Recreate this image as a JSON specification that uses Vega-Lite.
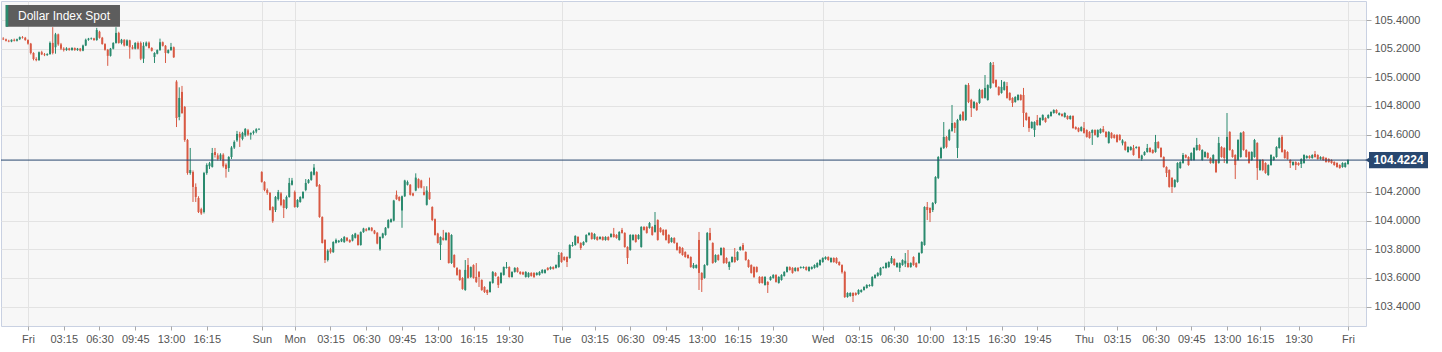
{
"$schema":"https://vega.github.io/schema/vega-lite/v6.json",
"width":1365,"height":325,
"padding":{"left":0,"top":1,"right":0,"bottom":0},
"background":"white",
"config":{"view":{"fill":"#f7f7f7","stroke":"#c9d1e2","strokeWidth":1},"font":"Liberation Sans","scale":{"continuousPadding":0}},
"data":{"values":[
{"t":-9,"o":105.270,"h":105.280,"l":105.260,"c":105.265},
{"t":-8,"o":105.265,"h":105.270,"l":105.250,"c":105.255},
{"t":-7,"o":105.255,"h":105.262,"l":105.245,"c":105.250},
{"t":-6,"o":105.250,"h":105.265,"l":105.245,"c":105.262},
{"t":-5,"o":105.262,"h":105.270,"l":105.250,"c":105.255},
{"t":-4,"o":105.255,"h":105.270,"l":105.250,"c":105.266},
{"t":-3,"o":105.266,"h":105.285,"l":105.260,"c":105.280},
{"t":-2,"o":105.280,"h":105.288,"l":105.270,"c":105.276},
{"t":-1,"o":105.276,"h":105.282,"l":105.255,"c":105.260},
{"t":0,"o":105.260,"h":105.265,"l":105.228,"c":105.235},
{"t":1,"o":105.235,"h":105.240,"l":105.160,"c":105.170},
{"t":2,"o":105.170,"h":105.175,"l":105.118,"c":105.128},
{"t":3,"o":105.128,"h":105.140,"l":105.112,"c":105.120},
{"t":4,"o":105.120,"h":105.180,"l":105.115,"c":105.175},
{"t":5,"o":105.175,"h":105.185,"l":105.155,"c":105.160},
{"t":6,"o":105.160,"h":105.170,"l":105.148,"c":105.155},
{"t":7,"o":105.155,"h":105.168,"l":105.150,"c":105.162},
{"t":8,"o":105.162,"h":105.250,"l":105.158,"c":105.240},
{"t":9,"o":105.240,"h":105.350,"l":105.160,"c":105.170},
{"t":10,"o":105.210,"h":105.310,"l":105.165,"c":105.300},
{"t":11,"o":105.300,"h":105.305,"l":105.220,"c":105.230},
{"t":12,"o":105.230,"h":105.240,"l":105.190,"c":105.200},
{"t":13,"o":105.200,"h":105.210,"l":105.180,"c":105.190},
{"t":14,"o":105.190,"h":105.210,"l":105.185,"c":105.202},
{"t":15,"o":105.202,"h":105.206,"l":105.186,"c":105.190},
{"t":16,"o":105.190,"h":105.210,"l":105.186,"c":105.205},
{"t":17,"o":105.205,"h":105.208,"l":105.185,"c":105.190},
{"t":18,"o":105.190,"h":105.205,"l":105.185,"c":105.200},
{"t":19,"o":105.200,"h":105.205,"l":105.180,"c":105.186},
{"t":20,"o":105.186,"h":105.228,"l":105.182,"c":105.222},
{"t":21,"o":105.222,"h":105.270,"l":105.218,"c":105.262},
{"t":22,"o":105.262,"h":105.275,"l":105.255,"c":105.270},
{"t":23,"o":105.268,"h":105.278,"l":105.262,"c":105.272},
{"t":24,"o":105.272,"h":105.276,"l":105.255,"c":105.260},
{"t":25,"o":105.260,"h":105.345,"l":105.255,"c":105.330},
{"t":26,"o":105.318,"h":105.325,"l":105.270,"c":105.276},
{"t":27,"o":105.276,"h":105.282,"l":105.228,"c":105.232},
{"t":28,"o":105.232,"h":105.238,"l":105.186,"c":105.192},
{"t":29,"o":105.192,"h":105.198,"l":105.080,"c":105.150},
{"t":30,"o":105.150,"h":105.205,"l":105.145,"c":105.200},
{"t":31,"o":105.200,"h":105.245,"l":105.195,"c":105.240},
{"t":32,"o":105.240,"h":105.350,"l":105.235,"c":105.310},
{"t":33,"o":105.310,"h":105.318,"l":105.235,"c":105.240},
{"t":34,"o":105.240,"h":105.268,"l":105.230,"c":105.262},
{"t":35,"o":105.262,"h":105.266,"l":105.215,"c":105.222},
{"t":36,"o":105.222,"h":105.265,"l":105.218,"c":105.258},
{"t":37,"o":105.258,"h":105.262,"l":105.130,"c":105.210},
{"t":38,"o":105.210,"h":105.225,"l":105.195,"c":105.200},
{"t":39,"o":105.200,"h":105.245,"l":105.195,"c":105.240},
{"t":40,"o":105.240,"h":105.250,"l":105.195,"c":105.200},
{"t":41,"o":105.240,"h":105.250,"l":105.120,"c":105.130},
{"t":42,"o":105.130,"h":105.245,"l":105.100,"c":105.220},
{"t":43,"o":105.220,"h":105.250,"l":105.215,"c":105.242},
{"t":44,"o":105.242,"h":105.250,"l":105.200,"c":105.205},
{"t":45,"o":105.205,"h":105.210,"l":105.180,"c":105.185},
{"t":46,"o":105.142,"h":105.175,"l":105.100,"c":105.170},
{"t":47,"o":105.165,"h":105.195,"l":105.160,"c":105.190},
{"t":48,"o":105.190,"h":105.270,"l":105.185,"c":105.245},
{"t":49,"o":105.245,"h":105.250,"l":105.215,"c":105.220},
{"t":50,"o":105.220,"h":105.225,"l":105.100,"c":105.170},
{"t":51,"o":105.170,"h":105.195,"l":105.165,"c":105.190},
{"t":52,"o":105.190,"h":105.240,"l":105.185,"c":105.212},
{"t":53,"o":105.210,"h":105.215,"l":105.135,"c":105.140},
{"t":54,"o":104.970,"h":104.980,"l":104.653,"c":104.716},
{"t":55,"o":104.723,"h":104.930,"l":104.700,"c":104.856},
{"t":56,"o":104.898,"h":104.940,"l":104.745,"c":104.751},
{"t":57,"o":104.793,"h":104.800,"l":104.550,"c":104.563},
{"t":58,"o":104.563,"h":104.570,"l":104.320,"c":104.332},
{"t":59,"o":104.332,"h":104.507,"l":104.320,"c":104.353},
{"t":60,"o":104.339,"h":104.350,"l":104.130,"c":104.235},
{"t":61,"o":104.235,"h":104.260,"l":104.130,"c":104.165},
{"t":62,"o":104.158,"h":104.170,"l":104.053,"c":104.060},
{"t":63,"o":104.080,"h":104.090,"l":104.040,"c":104.050},
{"t":64,"o":104.060,"h":104.340,"l":104.050,"c":104.332},
{"t":65,"o":104.332,"h":104.400,"l":104.320,"c":104.388},
{"t":66,"o":104.380,"h":104.410,"l":104.360,"c":104.400},
{"t":67,"o":104.375,"h":104.507,"l":104.370,"c":104.472},
{"t":68,"o":104.479,"h":104.507,"l":104.440,"c":104.458},
{"t":69,"o":104.455,"h":104.470,"l":104.420,"c":104.430},
{"t":70,"o":104.430,"h":104.470,"l":104.420,"c":104.460},
{"t":71,"o":104.460,"h":104.470,"l":104.370,"c":104.380},
{"t":72,"o":104.390,"h":104.400,"l":104.300,"c":104.360},
{"t":73,"o":104.367,"h":104.450,"l":104.340,"c":104.444},
{"t":74,"o":104.444,"h":104.520,"l":104.430,"c":104.510},
{"t":75,"o":104.510,"h":104.560,"l":104.500,"c":104.549},
{"t":76,"o":104.560,"h":104.626,"l":104.550,"c":104.605},
{"t":77,"o":104.605,"h":104.620,"l":104.514,"c":104.580},
{"t":78,"o":104.570,"h":104.620,"l":104.560,"c":104.612},
{"t":79,"o":104.595,"h":104.646,"l":104.585,"c":104.640},
{"t":80,"o":104.630,"h":104.640,"l":104.590,"c":104.600},
{"t":81,"o":104.600,"h":104.615,"l":104.565,"c":104.612},
{"t":82,"o":104.612,"h":104.630,"l":104.600,"c":104.622},
{"t":83,"o":104.622,"h":104.645,"l":104.610,"c":104.638},
{"t":84,"o":104.636,"h":104.645,"l":104.632,"c":104.640},
{"t":85,"o":104.339,"h":104.345,"l":104.265,"c":104.270},
{"t":86,"o":104.270,"h":104.275,"l":104.205,"c":104.214},
{"t":87,"o":104.214,"h":104.225,"l":104.180,"c":104.193},
{"t":88,"o":104.193,"h":104.200,"l":104.070,"c":104.074},
{"t":89,"o":104.095,"h":104.100,"l":103.985,"c":103.997},
{"t":90,"o":104.074,"h":104.172,"l":104.060,"c":104.165},
{"t":91,"o":104.150,"h":104.214,"l":104.140,"c":104.200},
{"t":92,"o":104.190,"h":104.200,"l":104.100,"c":104.109},
{"t":93,"o":104.144,"h":104.150,"l":104.018,"c":104.088},
{"t":94,"o":104.088,"h":104.175,"l":104.080,"c":104.165},
{"t":95,"o":104.165,"h":104.298,"l":104.160,"c":104.263},
{"t":96,"o":104.250,"h":104.298,"l":104.245,"c":104.280},
{"t":97,"o":104.200,"h":104.210,"l":104.090,"c":104.095},
{"t":98,"o":104.095,"h":104.150,"l":104.090,"c":104.144},
{"t":99,"o":104.130,"h":104.170,"l":104.125,"c":104.165},
{"t":100,"o":104.158,"h":104.205,"l":104.150,"c":104.200},
{"t":101,"o":104.214,"h":104.290,"l":104.205,"c":104.263},
{"t":102,"o":104.263,"h":104.290,"l":104.258,"c":104.284},
{"t":103,"o":104.284,"h":104.345,"l":104.278,"c":104.339},
{"t":104,"o":104.320,"h":104.395,"l":104.315,"c":104.370},
{"t":105,"o":104.339,"h":104.345,"l":104.235,"c":104.240},
{"t":106,"o":104.249,"h":104.255,"l":104.020,"c":104.025},
{"t":107,"o":104.025,"h":104.030,"l":103.840,"c":103.844},
{"t":108,"o":103.865,"h":103.870,"l":103.704,"c":103.725},
{"t":109,"o":103.725,"h":103.800,"l":103.715,"c":103.790},
{"t":110,"o":103.800,"h":103.810,"l":103.770,"c":103.780},
{"t":111,"o":103.780,"h":103.856,"l":103.775,"c":103.851},
{"t":112,"o":103.845,"h":103.875,"l":103.840,"c":103.865},
{"t":113,"o":103.850,"h":103.865,"l":103.845,"c":103.860},
{"t":114,"o":103.855,"h":103.878,"l":103.850,"c":103.872},
{"t":115,"o":103.850,"h":103.892,"l":103.845,"c":103.886},
{"t":116,"o":103.880,"h":103.885,"l":103.855,"c":103.860},
{"t":117,"o":103.865,"h":103.870,"l":103.845,"c":103.850},
{"t":118,"o":103.860,"h":103.905,"l":103.855,"c":103.900},
{"t":119,"o":103.880,"h":103.915,"l":103.875,"c":103.910},
{"t":120,"o":103.900,"h":103.905,"l":103.825,"c":103.830},
{"t":121,"o":103.830,"h":103.925,"l":103.825,"c":103.920},
{"t":122,"o":103.920,"h":103.950,"l":103.915,"c":103.945},
{"t":123,"o":103.940,"h":103.948,"l":103.925,"c":103.930},
{"t":124,"o":103.935,"h":103.956,"l":103.930,"c":103.950},
{"t":125,"o":103.950,"h":103.955,"l":103.925,"c":103.930},
{"t":126,"o":103.930,"h":103.935,"l":103.905,"c":103.910},
{"t":127,"o":103.915,"h":103.920,"l":103.835,"c":103.840},
{"t":128,"o":103.800,"h":103.890,"l":103.790,"c":103.886},
{"t":129,"o":103.880,"h":103.915,"l":103.875,"c":103.910},
{"t":130,"o":103.900,"h":103.955,"l":103.895,"c":103.950},
{"t":131,"o":103.950,"h":104.010,"l":103.945,"c":104.004},
{"t":132,"o":103.990,"h":104.015,"l":103.985,"c":104.010},
{"t":133,"o":104.000,"h":104.145,"l":103.995,"c":104.140},
{"t":134,"o":104.180,"h":104.210,"l":104.145,"c":104.150},
{"t":135,"o":104.165,"h":104.170,"l":104.135,"c":104.140},
{"t":136,"o":104.070,"h":104.175,"l":103.950,"c":104.170},
{"t":137,"o":104.170,"h":104.285,"l":104.165,"c":104.280},
{"t":138,"o":104.250,"h":104.280,"l":104.245,"c":104.270},
{"t":139,"o":104.250,"h":104.255,"l":104.175,"c":104.180},
{"t":140,"o":104.190,"h":104.195,"l":104.170,"c":104.175},
{"t":141,"o":104.210,"h":104.330,"l":104.205,"c":104.300},
{"t":142,"o":104.290,"h":104.295,"l":104.225,"c":104.230},
{"t":143,"o":104.280,"h":104.285,"l":104.225,"c":104.230},
{"t":144,"o":104.200,"h":104.240,"l":104.175,"c":104.180},
{"t":145,"o":104.110,"h":104.240,"l":104.105,"c":104.210},
{"t":146,"o":104.200,"h":104.300,"l":104.145,"c":104.150},
{"t":147,"o":104.095,"h":104.100,"l":103.998,"c":104.004},
{"t":148,"o":104.010,"h":104.015,"l":103.895,"c":103.900},
{"t":149,"o":103.910,"h":103.915,"l":103.840,"c":103.844},
{"t":150,"o":103.830,"h":103.890,"l":103.725,"c":103.886},
{"t":151,"o":103.880,"h":103.935,"l":103.860,"c":103.865},
{"t":152,"o":103.865,"h":103.920,"l":103.860,"c":103.914},
{"t":153,"o":103.914,"h":103.920,"l":103.700,"c":103.704},
{"t":154,"o":103.704,"h":103.905,"l":103.698,"c":103.900},
{"t":155,"o":103.760,"h":103.765,"l":103.670,"c":103.676},
{"t":156,"o":103.670,"h":103.675,"l":103.615,"c":103.621},
{"t":157,"o":103.656,"h":103.660,"l":103.580,"c":103.586},
{"t":158,"o":103.600,"h":103.605,"l":103.518,"c":103.523},
{"t":159,"o":103.516,"h":103.725,"l":103.510,"c":103.656},
{"t":160,"o":103.690,"h":103.739,"l":103.595,"c":103.600},
{"t":161,"o":103.607,"h":103.680,"l":103.600,"c":103.676},
{"t":162,"o":103.690,"h":103.695,"l":103.595,"c":103.600},
{"t":163,"o":103.607,"h":103.704,"l":103.565,"c":103.572},
{"t":164,"o":103.642,"h":103.648,"l":103.537,"c":103.607},
{"t":165,"o":103.586,"h":103.590,"l":103.510,"c":103.516},
{"t":166,"o":103.537,"h":103.542,"l":103.495,"c":103.502},
{"t":167,"o":103.516,"h":103.520,"l":103.481,"c":103.495},
{"t":168,"o":103.502,"h":103.578,"l":103.497,"c":103.572},
{"t":169,"o":103.565,"h":103.648,"l":103.560,"c":103.642},
{"t":170,"o":103.635,"h":103.640,"l":103.610,"c":103.614},
{"t":171,"o":103.607,"h":103.612,"l":103.530,"c":103.551},
{"t":172,"o":103.565,"h":103.640,"l":103.560,"c":103.635},
{"t":173,"o":103.621,"h":103.680,"l":103.616,"c":103.676},
{"t":174,"o":103.670,"h":103.711,"l":103.665,"c":103.676},
{"t":175,"o":103.676,"h":103.681,"l":103.602,"c":103.607},
{"t":176,"o":103.607,"h":103.647,"l":103.602,"c":103.642},
{"t":177,"o":103.642,"h":103.675,"l":103.637,"c":103.670},
{"t":178,"o":103.670,"h":103.675,"l":103.637,"c":103.642},
{"t":179,"o":103.642,"h":103.647,"l":103.623,"c":103.628},
{"t":180,"o":103.640,"h":103.645,"l":103.620,"c":103.625},
{"t":181,"o":103.607,"h":103.647,"l":103.602,"c":103.642},
{"t":182,"o":103.607,"h":103.640,"l":103.602,"c":103.635},
{"t":183,"o":103.635,"h":103.640,"l":103.609,"c":103.614},
{"t":184,"o":103.635,"h":103.640,"l":103.600,"c":103.607},
{"t":185,"o":103.621,"h":103.640,"l":103.616,"c":103.635},
{"t":186,"o":103.621,"h":103.647,"l":103.616,"c":103.642},
{"t":187,"o":103.635,"h":103.661,"l":103.630,"c":103.656},
{"t":188,"o":103.635,"h":103.661,"l":103.630,"c":103.656},
{"t":189,"o":103.670,"h":103.675,"l":103.651,"c":103.656},
{"t":190,"o":103.662,"h":103.681,"l":103.657,"c":103.676},
{"t":191,"o":103.676,"h":103.681,"l":103.658,"c":103.663},
{"t":192,"o":103.670,"h":103.695,"l":103.665,"c":103.690},
{"t":193,"o":103.676,"h":103.781,"l":103.671,"c":103.760},
{"t":194,"o":103.774,"h":103.779,"l":103.706,"c":103.711},
{"t":195,"o":103.746,"h":103.751,"l":103.720,"c":103.725},
{"t":196,"o":103.746,"h":103.751,"l":103.676,"c":103.711},
{"t":197,"o":103.739,"h":103.835,"l":103.734,"c":103.830},
{"t":198,"o":103.823,"h":103.851,"l":103.818,"c":103.830},
{"t":199,"o":103.830,"h":103.898,"l":103.825,"c":103.893},
{"t":200,"o":103.886,"h":103.891,"l":103.839,"c":103.844},
{"t":201,"o":103.844,"h":103.849,"l":103.795,"c":103.809},
{"t":202,"o":103.830,"h":103.856,"l":103.825,"c":103.851},
{"t":203,"o":103.851,"h":103.905,"l":103.846,"c":103.900},
{"t":204,"o":103.900,"h":103.919,"l":103.895,"c":103.914},
{"t":205,"o":103.914,"h":103.919,"l":103.867,"c":103.872},
{"t":206,"o":103.872,"h":103.912,"l":103.867,"c":103.907},
{"t":207,"o":103.886,"h":103.891,"l":103.860,"c":103.865},
{"t":208,"o":103.872,"h":103.891,"l":103.867,"c":103.886},
{"t":209,"o":103.886,"h":103.891,"l":103.860,"c":103.865},
{"t":210,"o":103.865,"h":103.891,"l":103.860,"c":103.886},
{"t":211,"o":103.886,"h":103.891,"l":103.860,"c":103.865},
{"t":212,"o":103.886,"h":103.912,"l":103.881,"c":103.907},
{"t":213,"o":103.907,"h":103.949,"l":103.881,"c":103.886},
{"t":214,"o":103.900,"h":103.905,"l":103.874,"c":103.879},
{"t":215,"o":103.865,"h":103.926,"l":103.860,"c":103.921},
{"t":216,"o":103.935,"h":103.949,"l":103.909,"c":103.914},
{"t":217,"o":103.914,"h":103.919,"l":103.811,"c":103.816},
{"t":218,"o":103.816,"h":103.821,"l":103.697,"c":103.739},
{"t":219,"o":103.795,"h":103.905,"l":103.790,"c":103.900},
{"t":220,"o":103.865,"h":103.905,"l":103.860,"c":103.900},
{"t":221,"o":103.900,"h":103.905,"l":103.846,"c":103.851},
{"t":222,"o":103.872,"h":103.905,"l":103.867,"c":103.900},
{"t":223,"o":103.816,"h":103.961,"l":103.811,"c":103.956},
{"t":224,"o":103.956,"h":103.961,"l":103.930,"c":103.935},
{"t":225,"o":103.956,"h":103.961,"l":103.909,"c":103.914},
{"t":226,"o":103.949,"h":103.990,"l":103.944,"c":103.983},
{"t":227,"o":103.956,"h":103.961,"l":103.895,"c":103.900},
{"t":228,"o":103.921,"h":104.060,"l":103.916,"c":103.970},
{"t":229,"o":104.004,"h":104.009,"l":103.860,"c":103.865},
{"t":230,"o":103.949,"h":103.954,"l":103.916,"c":103.921},
{"t":231,"o":103.935,"h":103.940,"l":103.895,"c":103.900},
{"t":232,"o":103.935,"h":103.940,"l":103.860,"c":103.865},
{"t":233,"o":103.900,"h":103.905,"l":103.839,"c":103.844},
{"t":234,"o":103.851,"h":103.884,"l":103.846,"c":103.879},
{"t":235,"o":103.879,"h":103.884,"l":103.839,"c":103.844},
{"t":236,"o":103.844,"h":103.849,"l":103.790,"c":103.795},
{"t":237,"o":103.816,"h":103.821,"l":103.769,"c":103.774},
{"t":238,"o":103.809,"h":103.814,"l":103.755,"c":103.760},
{"t":239,"o":103.781,"h":103.786,"l":103.741,"c":103.746},
{"t":240,"o":103.760,"h":103.765,"l":103.734,"c":103.739},
{"t":241,"o":103.746,"h":103.751,"l":103.671,"c":103.676},
{"t":242,"o":103.670,"h":103.704,"l":103.665,"c":103.690},
{"t":243,"o":103.670,"h":103.695,"l":103.665,"c":103.690},
{"t":244,"o":103.865,"h":103.921,"l":103.516,"c":103.635},
{"t":245,"o":103.635,"h":103.640,"l":103.502,"c":103.586},
{"t":246,"o":103.600,"h":103.695,"l":103.595,"c":103.690},
{"t":247,"o":103.690,"h":103.920,"l":103.685,"c":103.914},
{"t":248,"o":103.914,"h":103.949,"l":103.860,"c":103.865},
{"t":249,"o":103.844,"h":103.849,"l":103.699,"c":103.704},
{"t":250,"o":103.711,"h":103.765,"l":103.706,"c":103.760},
{"t":251,"o":103.760,"h":103.765,"l":103.720,"c":103.725},
{"t":252,"o":103.760,"h":103.814,"l":103.755,"c":103.809},
{"t":253,"o":103.809,"h":103.814,"l":103.699,"c":103.704},
{"t":254,"o":103.739,"h":103.744,"l":103.699,"c":103.704},
{"t":255,"o":103.676,"h":103.716,"l":103.656,"c":103.711},
{"t":256,"o":103.711,"h":103.751,"l":103.706,"c":103.746},
{"t":257,"o":103.746,"h":103.809,"l":103.706,"c":103.711},
{"t":258,"o":103.725,"h":103.786,"l":103.720,"c":103.781},
{"t":259,"o":103.795,"h":103.821,"l":103.790,"c":103.816},
{"t":260,"o":103.830,"h":103.844,"l":103.790,"c":103.795},
{"t":261,"o":103.781,"h":103.786,"l":103.720,"c":103.725},
{"t":262,"o":103.725,"h":103.730,"l":103.671,"c":103.676},
{"t":263,"o":103.690,"h":103.695,"l":103.630,"c":103.635},
{"t":264,"o":103.676,"h":103.681,"l":103.600,"c":103.607},
{"t":265,"o":103.676,"h":103.681,"l":103.637,"c":103.642},
{"t":266,"o":103.607,"h":103.612,"l":103.560,"c":103.565},
{"t":267,"o":103.607,"h":103.612,"l":103.560,"c":103.565},
{"t":268,"o":103.551,"h":103.612,"l":103.546,"c":103.607},
{"t":269,"o":103.572,"h":103.577,"l":103.495,"c":103.551},
{"t":270,"o":103.586,"h":103.612,"l":103.581,"c":103.607},
{"t":271,"o":103.600,"h":103.626,"l":103.595,"c":103.621},
{"t":272,"o":103.621,"h":103.626,"l":103.567,"c":103.572},
{"t":273,"o":103.565,"h":103.612,"l":103.560,"c":103.607},
{"t":274,"o":103.586,"h":103.626,"l":103.581,"c":103.621},
{"t":275,"o":103.614,"h":103.647,"l":103.609,"c":103.642},
{"t":276,"o":103.642,"h":103.681,"l":103.637,"c":103.676},
{"t":277,"o":103.676,"h":103.681,"l":103.651,"c":103.656},
{"t":278,"o":103.670,"h":103.675,"l":103.630,"c":103.635},
{"t":279,"o":103.649,"h":103.675,"l":103.644,"c":103.670},
{"t":280,"o":103.670,"h":103.675,"l":103.644,"c":103.649},
{"t":281,"o":103.670,"h":103.681,"l":103.665,"c":103.676},
{"t":282,"o":103.670,"h":103.681,"l":103.665,"c":103.676},
{"t":283,"o":103.676,"h":103.681,"l":103.651,"c":103.656},
{"t":284,"o":103.649,"h":103.681,"l":103.644,"c":103.676},
{"t":285,"o":103.663,"h":103.681,"l":103.658,"c":103.676},
{"t":286,"o":103.670,"h":103.695,"l":103.665,"c":103.690},
{"t":287,"o":103.676,"h":103.709,"l":103.671,"c":103.704},
{"t":288,"o":103.690,"h":103.730,"l":103.685,"c":103.725},
{"t":289,"o":103.711,"h":103.744,"l":103.706,"c":103.739},
{"t":290,"o":103.732,"h":103.751,"l":103.727,"c":103.746},
{"t":291,"o":103.746,"h":103.751,"l":103.720,"c":103.725},
{"t":292,"o":103.711,"h":103.744,"l":103.706,"c":103.739},
{"t":293,"o":103.739,"h":103.744,"l":103.706,"c":103.711},
{"t":294,"o":103.739,"h":103.744,"l":103.699,"c":103.704},
{"t":295,"o":103.711,"h":103.716,"l":103.685,"c":103.690},
{"t":296,"o":103.690,"h":103.695,"l":103.630,"c":103.640},
{"t":297,"o":103.642,"h":103.650,"l":103.460,"c":103.467},
{"t":298,"o":103.467,"h":103.500,"l":103.462,"c":103.495},
{"t":299,"o":103.474,"h":103.500,"l":103.469,"c":103.495},
{"t":300,"o":103.495,"h":103.500,"l":103.432,"c":103.474},
{"t":301,"o":103.495,"h":103.500,"l":103.476,"c":103.481},
{"t":302,"o":103.488,"h":103.521,"l":103.483,"c":103.516},
{"t":303,"o":103.502,"h":103.521,"l":103.497,"c":103.516},
{"t":304,"o":103.516,"h":103.542,"l":103.511,"c":103.537},
{"t":305,"o":103.530,"h":103.556,"l":103.525,"c":103.551},
{"t":306,"o":103.544,"h":103.556,"l":103.539,"c":103.551},
{"t":307,"o":103.544,"h":103.612,"l":103.539,"c":103.607},
{"t":308,"o":103.600,"h":103.626,"l":103.595,"c":103.621},
{"t":309,"o":103.614,"h":103.640,"l":103.609,"c":103.635},
{"t":310,"o":103.621,"h":103.675,"l":103.616,"c":103.670},
{"t":311,"o":103.670,"h":103.681,"l":103.665,"c":103.676},
{"t":312,"o":103.670,"h":103.709,"l":103.665,"c":103.704},
{"t":313,"o":103.676,"h":103.716,"l":103.671,"c":103.711},
{"t":314,"o":103.704,"h":103.753,"l":103.699,"c":103.739},
{"t":315,"o":103.732,"h":103.737,"l":103.685,"c":103.690},
{"t":316,"o":103.676,"h":103.709,"l":103.671,"c":103.704},
{"t":317,"o":103.670,"h":103.709,"l":103.642,"c":103.704},
{"t":318,"o":103.690,"h":103.730,"l":103.685,"c":103.725},
{"t":319,"o":103.700,"h":103.774,"l":103.676,"c":103.720},
{"t":320,"o":103.704,"h":103.795,"l":103.671,"c":103.676},
{"t":321,"o":103.676,"h":103.709,"l":103.671,"c":103.704},
{"t":322,"o":103.746,"h":103.751,"l":103.685,"c":103.690},
{"t":323,"o":103.704,"h":103.709,"l":103.671,"c":103.676},
{"t":324,"o":103.704,"h":103.779,"l":103.699,"c":103.774},
{"t":325,"o":103.774,"h":103.856,"l":103.769,"c":103.851},
{"t":326,"o":103.830,"h":104.100,"l":103.825,"c":104.095},
{"t":327,"o":104.095,"h":104.130,"l":104.004,"c":104.074},
{"t":328,"o":104.088,"h":104.093,"l":103.990,"c":104.053},
{"t":329,"o":104.074,"h":104.130,"l":104.060,"c":104.123},
{"t":330,"o":104.123,"h":104.310,"l":104.115,"c":104.304},
{"t":331,"o":104.298,"h":104.450,"l":104.290,"c":104.444},
{"t":332,"o":104.437,"h":104.515,"l":104.430,"c":104.507},
{"t":333,"o":104.507,"h":104.688,"l":104.500,"c":104.584},
{"t":334,"o":104.584,"h":104.590,"l":104.505,"c":104.514},
{"t":335,"o":104.563,"h":104.640,"l":104.555,"c":104.632},
{"t":336,"o":104.626,"h":104.807,"l":104.620,"c":104.681},
{"t":337,"o":104.681,"h":104.688,"l":104.612,"c":104.646},
{"t":338,"o":104.507,"h":104.710,"l":104.437,"c":104.702},
{"t":339,"o":104.702,"h":104.745,"l":104.695,"c":104.737},
{"t":340,"o":104.758,"h":104.765,"l":104.695,"c":104.702},
{"t":341,"o":104.702,"h":104.950,"l":104.695,"c":104.946},
{"t":342,"o":104.946,"h":104.960,"l":104.820,"c":104.828},
{"t":343,"o":104.842,"h":104.850,"l":104.723,"c":104.786},
{"t":344,"o":104.786,"h":104.835,"l":104.780,"c":104.828},
{"t":345,"o":104.821,"h":104.828,"l":104.765,"c":104.772},
{"t":346,"o":104.821,"h":104.920,"l":104.815,"c":104.912},
{"t":347,"o":104.912,"h":104.917,"l":104.851,"c":104.856},
{"t":348,"o":104.856,"h":105.016,"l":104.851,"c":104.926},
{"t":349,"o":104.842,"h":104.951,"l":104.837,"c":104.946},
{"t":350,"o":104.926,"h":105.107,"l":104.921,"c":105.100},
{"t":351,"o":105.086,"h":105.107,"l":104.955,"c":104.960},
{"t":352,"o":104.981,"h":104.986,"l":104.928,"c":104.933},
{"t":353,"o":104.933,"h":104.938,"l":104.872,"c":104.877},
{"t":354,"o":104.891,"h":104.981,"l":104.886,"c":104.933},
{"t":355,"o":104.912,"h":104.972,"l":104.907,"c":104.967},
{"t":356,"o":104.939,"h":104.967,"l":104.851,"c":104.856},
{"t":357,"o":104.891,"h":104.896,"l":104.837,"c":104.842},
{"t":358,"o":104.856,"h":104.861,"l":104.793,"c":104.821},
{"t":359,"o":104.828,"h":104.868,"l":104.823,"c":104.863},
{"t":360,"o":104.842,"h":104.882,"l":104.837,"c":104.877},
{"t":361,"o":104.877,"h":104.882,"l":104.837,"c":104.842},
{"t":362,"o":104.877,"h":104.926,"l":104.653,"c":104.751},
{"t":363,"o":104.751,"h":104.756,"l":104.697,"c":104.702},
{"t":364,"o":104.723,"h":104.728,"l":104.619,"c":104.646},
{"t":365,"o":104.646,"h":104.693,"l":104.641,"c":104.688},
{"t":366,"o":104.632,"h":104.693,"l":104.584,"c":104.688},
{"t":367,"o":104.702,"h":104.737,"l":104.662,"c":104.667},
{"t":368,"o":104.667,"h":104.721,"l":104.662,"c":104.716},
{"t":369,"o":104.702,"h":104.742,"l":104.697,"c":104.737},
{"t":370,"o":104.716,"h":104.721,"l":104.683,"c":104.688},
{"t":371,"o":104.716,"h":104.742,"l":104.711,"c":104.737},
{"t":372,"o":104.730,"h":104.763,"l":104.725,"c":104.758},
{"t":373,"o":104.751,"h":104.777,"l":104.746,"c":104.772},
{"t":374,"o":104.772,"h":104.777,"l":104.746,"c":104.751},
{"t":375,"o":104.737,"h":104.755,"l":104.733,"c":104.751},
{"t":376,"o":104.744,"h":104.749,"l":104.725,"c":104.730},
{"t":377,"o":104.723,"h":104.756,"l":104.718,"c":104.751},
{"t":378,"o":104.730,"h":104.735,"l":104.704,"c":104.709},
{"t":379,"o":104.709,"h":104.735,"l":104.704,"c":104.730},
{"t":380,"o":104.730,"h":104.735,"l":104.641,"c":104.646},
{"t":381,"o":104.653,"h":104.658,"l":104.634,"c":104.639},
{"t":382,"o":104.646,"h":104.651,"l":104.617,"c":104.622},
{"t":383,"o":104.626,"h":104.658,"l":104.621,"c":104.653},
{"t":384,"o":104.646,"h":104.688,"l":104.607,"c":104.612},
{"t":385,"o":104.632,"h":104.637,"l":104.579,"c":104.584},
{"t":386,"o":104.619,"h":104.624,"l":104.572,"c":104.577},
{"t":387,"o":104.612,"h":104.637,"l":104.528,"c":104.632},
{"t":388,"o":104.632,"h":104.637,"l":104.593,"c":104.598},
{"t":389,"o":104.584,"h":104.637,"l":104.579,"c":104.632},
{"t":390,"o":104.612,"h":104.644,"l":104.607,"c":104.639},
{"t":391,"o":104.639,"h":104.660,"l":104.614,"c":104.619},
{"t":392,"o":104.619,"h":104.624,"l":104.579,"c":104.584},
{"t":393,"o":104.542,"h":104.624,"l":104.537,"c":104.619},
{"t":394,"o":104.612,"h":104.617,"l":104.572,"c":104.577},
{"t":395,"o":104.598,"h":104.603,"l":104.572,"c":104.577},
{"t":396,"o":104.598,"h":104.603,"l":104.544,"c":104.549},
{"t":397,"o":104.598,"h":104.603,"l":104.558,"c":104.563},
{"t":398,"o":104.540,"h":104.568,"l":104.525,"c":104.560},
{"t":399,"o":104.549,"h":104.554,"l":104.488,"c":104.493},
{"t":400,"o":104.479,"h":104.519,"l":104.474,"c":104.514},
{"t":401,"o":104.493,"h":104.519,"l":104.488,"c":104.514},
{"t":402,"o":104.507,"h":104.528,"l":104.453,"c":104.458},
{"t":403,"o":104.507,"h":104.519,"l":104.502,"c":104.514},
{"t":404,"o":104.514,"h":104.519,"l":104.432,"c":104.437},
{"t":405,"o":104.430,"h":104.460,"l":104.418,"c":104.455},
{"t":406,"o":104.458,"h":104.484,"l":104.453,"c":104.479},
{"t":407,"o":104.479,"h":104.535,"l":104.474,"c":104.507},
{"t":408,"o":104.507,"h":104.512,"l":104.474,"c":104.479},
{"t":409,"o":104.493,"h":104.498,"l":104.467,"c":104.472},
{"t":410,"o":104.479,"h":104.598,"l":104.474,"c":104.549},
{"t":411,"o":104.549,"h":104.554,"l":104.502,"c":104.507},
{"t":412,"o":104.507,"h":104.512,"l":104.439,"c":104.444},
{"t":413,"o":104.444,"h":104.449,"l":104.369,"c":104.374},
{"t":414,"o":104.374,"h":104.379,"l":104.304,"c":104.332},
{"t":415,"o":104.353,"h":104.358,"l":104.230,"c":104.235},
{"t":416,"o":104.298,"h":104.303,"l":104.193,"c":104.235},
{"t":417,"o":104.235,"h":104.289,"l":104.230,"c":104.284},
{"t":418,"o":104.270,"h":104.407,"l":104.265,"c":104.402},
{"t":419,"o":104.367,"h":104.414,"l":104.362,"c":104.409},
{"t":420,"o":104.402,"h":104.472,"l":104.397,"c":104.458},
{"t":421,"o":104.458,"h":104.463,"l":104.435,"c":104.440},
{"t":422,"o":104.444,"h":104.449,"l":104.383,"c":104.388},
{"t":423,"o":104.423,"h":104.477,"l":104.418,"c":104.472},
{"t":424,"o":104.423,"h":104.512,"l":104.418,"c":104.507},
{"t":425,"o":104.493,"h":104.577,"l":104.488,"c":104.528},
{"t":426,"o":104.528,"h":104.533,"l":104.488,"c":104.493},
{"t":427,"o":104.423,"h":104.498,"l":104.418,"c":104.493},
{"t":428,"o":104.444,"h":104.484,"l":104.439,"c":104.479},
{"t":429,"o":104.472,"h":104.477,"l":104.432,"c":104.437},
{"t":430,"o":104.437,"h":104.442,"l":104.397,"c":104.402},
{"t":431,"o":104.402,"h":104.463,"l":104.397,"c":104.458},
{"t":432,"o":104.423,"h":104.428,"l":104.332,"c":104.339},
{"t":433,"o":104.402,"h":104.584,"l":104.397,"c":104.542},
{"t":434,"o":104.514,"h":104.519,"l":104.439,"c":104.444},
{"t":435,"o":104.507,"h":104.512,"l":104.402,"c":104.437},
{"t":436,"o":104.402,"h":104.751,"l":104.395,"c":104.584},
{"t":437,"o":104.619,"h":104.624,"l":104.488,"c":104.493},
{"t":438,"o":104.493,"h":104.498,"l":104.439,"c":104.444},
{"t":439,"o":104.458,"h":104.463,"l":104.290,"c":104.388},
{"t":440,"o":104.423,"h":104.568,"l":104.418,"c":104.563},
{"t":441,"o":104.444,"h":104.617,"l":104.439,"c":104.612},
{"t":442,"o":104.619,"h":104.624,"l":104.488,"c":104.493},
{"t":443,"o":104.493,"h":104.498,"l":104.439,"c":104.444},
{"t":444,"o":104.479,"h":104.484,"l":104.397,"c":104.402},
{"t":445,"o":104.423,"h":104.484,"l":104.418,"c":104.479},
{"t":446,"o":104.444,"h":104.570,"l":104.439,"c":104.563},
{"t":447,"o":104.542,"h":104.547,"l":104.284,"c":104.367},
{"t":448,"o":104.353,"h":104.428,"l":104.348,"c":104.423},
{"t":449,"o":104.423,"h":104.430,"l":104.345,"c":104.353},
{"t":450,"o":104.402,"h":104.407,"l":104.327,"c":104.332},
{"t":451,"o":104.318,"h":104.393,"l":104.313,"c":104.388},
{"t":452,"o":104.388,"h":104.463,"l":104.383,"c":104.458},
{"t":453,"o":104.423,"h":104.449,"l":104.418,"c":104.444},
{"t":454,"o":104.444,"h":104.519,"l":104.439,"c":104.514},
{"t":455,"o":104.507,"h":104.582,"l":104.502,"c":104.577},
{"t":456,"o":104.584,"h":104.598,"l":104.474,"c":104.479},
{"t":457,"o":104.493,"h":104.498,"l":104.432,"c":104.437},
{"t":458,"o":104.479,"h":104.484,"l":104.425,"c":104.430},
{"t":459,"o":104.423,"h":104.428,"l":104.367,"c":104.402},
{"t":460,"o":104.388,"h":104.414,"l":104.383,"c":104.409},
{"t":461,"o":104.409,"h":104.414,"l":104.353,"c":104.388},
{"t":462,"o":104.402,"h":104.407,"l":104.383,"c":104.388},
{"t":463,"o":104.395,"h":104.435,"l":104.367,"c":104.430},
{"t":464,"o":104.402,"h":104.463,"l":104.397,"c":104.458},
{"t":465,"o":104.437,"h":104.456,"l":104.432,"c":104.451},
{"t":466,"o":104.451,"h":104.456,"l":104.432,"c":104.437},
{"t":467,"o":104.437,"h":104.463,"l":104.432,"c":104.458},
{"t":468,"o":104.465,"h":104.486,"l":104.439,"c":104.444},
{"t":469,"o":104.458,"h":104.463,"l":104.425,"c":104.430},
{"t":470,"o":104.430,"h":104.449,"l":104.425,"c":104.444},
{"t":471,"o":104.444,"h":104.449,"l":104.418,"c":104.423},
{"t":472,"o":104.437,"h":104.442,"l":104.404,"c":104.409},
{"t":473,"o":104.430,"h":104.435,"l":104.404,"c":104.409},
{"t":474,"o":104.423,"h":104.428,"l":104.397,"c":104.402},
{"t":475,"o":104.409,"h":104.414,"l":104.383,"c":104.388},
{"t":476,"o":104.402,"h":104.407,"l":104.369,"c":104.374},
{"t":477,"o":104.388,"h":104.393,"l":104.362,"c":104.367},
{"t":478,"o":104.374,"h":104.407,"l":104.369,"c":104.402},
{"t":479,"o":104.374,"h":104.407,"l":104.369,"c":104.402},
{"t":480,"o":104.395,"h":104.428,"l":104.390,"c":104.4224}
]},
"layer":[
{"mark":{"type":"rule","strokeWidth":1},
 "encoding":{
  "x":{"field":"t","type":"quantitative","title":null,"scale":{"domain":[-9.818,486.545],"nice":false,"zero":false,"padding":0},
   "axis":{"values":[0,13,26,39,52,65,85,97,110,123,136,149,162,175,194,206,219,232,245,258,271,289,302,315,328,341,354,367,384,396,410,423,436,448,462,480],
    "tickCount":200,
    "labelExpr":"['Fri','03:15','06:30','09:45','13:00','16:15','Sun','Mon','03:15','06:30','09:45','13:00','16:15','19:30','Tue','03:15','06:30','09:45','13:00','16:15','19:30','Wed','03:15','06:30','10:00','13:15','16:30','19:45','Thu','03:15','06:30','09:45','13:00','16:15','19:30','Fri'][indexof([0,13,26,39,52,65,85,97,110,123,136,149,162,175,194,206,219,232,245,258,271,289,302,315,328,341,354,367,384,396,410,423,436,448,462,480], datum.value)]",
    "grid":true,"gridColor":"#e3e3e3",
    "gridOpacity":{"condition":{"test":"indexof([0,85,97,194,289,384,480], datum.value) >= 0","value":1},"value":0},
    "domain":false,"tickSize":4,"tickColor":"#a8a8a8","labelFontSize":11,"labelColor":"#555555","labelPadding":3,"labelFlush":false,"labelOverlap":false,"labelFont":"Liberation Sans"}},
  "y":{"field":"l","type":"quantitative","title":null,"scale":{"domain":[103.2646,105.5326],"nice":false,"zero":false,"padding":0},
   "axis":{"orient":"right","values":[103.4,103.6,103.8,104.0,104.2,104.6,104.8,105.0,105.2,105.4],"tickCount":100,"format":".4f",
    "grid":true,"gridColor":"#e3e3e3","domain":false,"tickSize":5,"tickColor":"#a8a8a8","labelFontSize":11,"labelColor":"#555555","labelPadding":3,"labelOverlap":false,"labelFont":"Liberation Sans"}},
  "y2":{"field":"h"},
  "color":{"condition":{"test":"datum.c >= datum.o","value":"#2a8a6e"},"value":"#d85a44"}
 }},
{"mark":{"type":"bar","width":2},
 "encoding":{
  "x":{"field":"t","type":"quantitative","title":null,"scale":{"domain":[-9.818,486.545],"nice":false,"zero":false,"padding":0}},
  "y":{"field":"o","type":"quantitative","title":null,"scale":{"domain":[103.2646,105.5326],"nice":false,"zero":false,"padding":0}},
  "y2":{"field":"c"},
  "color":{"condition":{"test":"datum.c >= datum.o","value":"#2a8a6e"},"value":"#d85a44"}
 }},
{"data":{"values":[{}]},
 "mark":{"type":"rule","color":"#28476f","strokeWidth":1},
 "encoding":{"y":{"datum":104.4224,"type":"quantitative","title":null,"scale":{"domain":[103.2646,105.5326],"nice":false,"zero":false,"padding":0}}}},
{"data":{"values":[{}]},
 "mark":{"type":"rect","color":"#28476f"},
 "encoding":{
  "x":{"datum":487.64,"type":"quantitative","title":null,"scale":{"domain":[-9.818,486.545],"nice":false,"zero":false,"padding":0}},
  "x2":{"datum":509.09},
  "y":{"datum":104.479,"type":"quantitative","title":null,"scale":{"domain":[103.2646,105.5326],"nice":false,"zero":false,"padding":0}},
  "y2":{"datum":104.366}}},
{"data":{"values":[{}]},
 "mark":{"type":"point","shape":"triangle-left","filled":true,"size":45,"color":"#28476f","opacity":1},
 "encoding":{
  "x":{"datum":487.3,"type":"quantitative","title":null,"scale":{"domain":[-9.818,486.545],"nice":false,"zero":false,"padding":0}},
  "y":{"datum":104.4224,"type":"quantitative","title":null,"scale":{"domain":[103.2646,105.5326],"nice":false,"zero":false,"padding":0}}}},
{"data":{"values":[{}]},
 "mark":{"type":"text","color":"white","fontWeight":"bold","fontSize":12,"font":"Liberation Sans","align":"center","baseline":"middle"},
 "encoding":{
  "x":{"datum":498.4,"type":"quantitative","title":null,"scale":{"domain":[-9.818,486.545],"nice":false,"zero":false,"padding":0}},
  "y":{"datum":104.4224,"type":"quantitative","title":null,"scale":{"domain":[103.2646,105.5326],"nice":false,"zero":false,"padding":0}},
  "text":{"value":"104.4224"}}},
{"data":{"values":[{}]},
 "mark":{"type":"rect","color":"#5d5d5d"},
 "encoding":{
  "x":{"datum":-8.11,"type":"quantitative","title":null,"scale":{"domain":[-9.818,486.545],"nice":false,"zero":false,"padding":0}},
  "x2":{"datum":33.45},
  "y":{"datum":105.5047,"type":"quantitative","title":null,"scale":{"domain":[103.2646,105.5326],"nice":false,"zero":false,"padding":0}},
  "y2":{"datum":105.3533}}},
{"data":{"values":[{}]},
 "mark":{"type":"rect","color":"#2a8a6e"},
 "encoding":{
  "x":{"datum":-8.11,"type":"quantitative","title":null,"scale":{"domain":[-9.818,486.545],"nice":false,"zero":false,"padding":0}},
  "x2":{"datum":-7.16},
  "y":{"datum":105.5047,"type":"quantitative","title":null,"scale":{"domain":[103.2646,105.5326],"nice":false,"zero":false,"padding":0}},
  "y2":{"datum":105.3533}}},
{"data":{"values":[{}]},
 "mark":{"type":"text","color":"white","fontSize":12,"font":"Liberation Sans","align":"left","baseline":"middle"},
 "encoding":{
  "x":{"datum":-3.64,"type":"quantitative","title":null,"scale":{"domain":[-9.818,486.545],"nice":false,"zero":false,"padding":0}},
  "y":{"datum":105.428,"type":"quantitative","title":null,"scale":{"domain":[103.2646,105.5326],"nice":false,"zero":false,"padding":0}},
  "text":{"value":"Dollar Index Spot"}}}
]
}
